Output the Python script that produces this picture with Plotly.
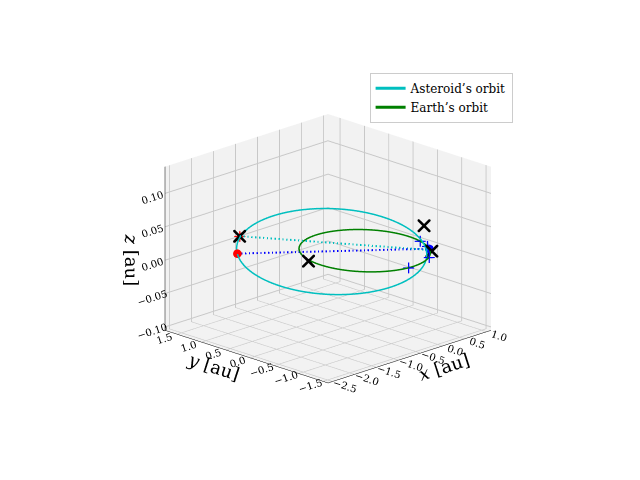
import numpy as np
import plotly.graph_objects as go

# orbital parameters
ast_a, ast_e, ast_inc_deg, ast_peri_dir_deg, ast_node_deg = 1.45, 0.35, 0.9, -40.0, -45.0
earth_r = 1.0

# markers (x, y, z in au)
red_dot = ([-1.5], [1.26], [-0.002])
blue_dot = ([0.8], [-0.6], [0.0])
red_cross = ([-1.05], [1.62], [0.006])
cross_pts = ([-1.0, 0.85, 0.75], [0.25, -0.45, -0.7], [0.0, 0.03, 0.0])
plus_pts = ([0.97, 0.87, 0.5, -0.1], [-0.26, -0.5, -0.87, -0.99], [0.0, 0.0, 0.0, 0.0])
cyan_line = ([-1.05, 0.8], [1.62, -0.7], [0.006, 0.0])
blue_line = ([-1.5, 0.8], [1.26, -0.6], [-0.002, 0.0])

t = np.linspace(0, 2*np.pi, 400)
c = ast_a*ast_e
b = ast_a*np.sqrt(1-ast_e**2)
px = -c + ast_a*np.cos(t)
py = b*np.sin(t)
w = np.radians(ast_peri_dir_deg)
ax_ = px*np.cos(w) - py*np.sin(w)
ay_ = px*np.sin(w) + py*np.cos(w)
nd = np.radians(ast_node_deg)
az_ = np.tan(np.radians(ast_inc_deg))*(-ax_*np.sin(nd) + ay_*np.cos(nd))
ex = earth_r*np.cos(t); ey = earth_r*np.sin(t); ez = 0*t

CY = '#00bfbf'
fig = go.Figure()
fig.add_trace(go.Scatter3d(x=ax_, y=ay_, z=az_, mode='lines', line=dict(color=CY, width=3), name="Asteroid’s orbit"))
fig.add_trace(go.Scatter3d(x=ex, y=ey, z=ez, mode='lines', line=dict(color='green', width=3), name="Earth’s orbit"))
fig.add_trace(go.Scatter3d(x=cyan_line[0], y=cyan_line[1], z=cyan_line[2], mode='lines', line=dict(color=CY, width=4, dash='dash'), showlegend=False))
fig.add_trace(go.Scatter3d(x=blue_line[0], y=blue_line[1], z=blue_line[2], mode='lines', line=dict(color='blue', width=4, dash='dash'), showlegend=False))
fig.add_trace(go.Scatter3d(x=red_dot[0], y=red_dot[1], z=red_dot[2], mode='markers', marker=dict(color='red', size=5), showlegend=False))
fig.add_trace(go.Scatter3d(x=blue_dot[0], y=blue_dot[1], z=blue_dot[2], mode='markers', marker=dict(color='blue', size=5), showlegend=False))
fig.add_trace(go.Scatter3d(x=red_cross[0], y=red_cross[1], z=red_cross[2], mode='markers', marker=dict(color='red', size=6, symbol='cross'), showlegend=False))
fig.add_trace(go.Scatter3d(x=red_cross[0], y=red_cross[1], z=red_cross[2], mode='markers', marker=dict(color='black', size=3, symbol='x'), showlegend=False))
fig.add_trace(go.Scatter3d(x=cross_pts[0], y=cross_pts[1], z=cross_pts[2], mode='markers', marker=dict(color='black', size=3, symbol='x'), showlegend=False))
fig.add_trace(go.Scatter3d(x=plus_pts[0], y=plus_pts[1], z=plus_pts[2], mode='markers', marker=dict(color='blue', size=6, symbol='cross'), showlegend=False))

def axis(title, rng, vals, texts):
    return dict(title=dict(text=title, font=dict(size=18)), range=rng, tickvals=vals, ticktext=texts,
                backgroundcolor='#f2f2f2', showbackground=True, gridcolor='#c8c8c8',
                zeroline=False, showspikes=False, tickfont=dict(size=11), linecolor='black', showline=True)

xv = [-2.5, -2.0, -1.5, -1.0, -0.5, 0.0, 0.5, 1.0]
yv = [-1.5, -1.0, -0.5, 0.0, 0.5, 1.0, 1.5]
zv = [-0.10, -0.05, 0.0, 0.05, 0.10]
xa = axis('<i>x</i> [au]', [-2.6, 1.1], xv, ['−2.5', '−2.0', '−1.5', '−1.0', '−0.5', '0.0', '0.5', '1.0'])
ya = axis('<i>y</i> [au]', [-1.6, 1.75], yv, ['−1.5', '−1.0', '−0.5', '0.0', '0.5', '1.0', '1.5'])
za = axis('<i>z</i> [au]', [-0.105, 0.14], zv, ['−0.10', '−0.05', '0.00', '0.05', '0.10'])

fig.update_layout(
    width=640, height=480, paper_bgcolor='white',
    font=dict(family='DejaVu Serif', color='black'),
    margin=dict(l=0, r=0, t=0, b=0),
    scene=dict(xaxis=xa, yaxis=ya, zaxis=za, aspectmode='manual', aspectratio=dict(x=1, y=1, z=0.75),
               domain=dict(x=[0.0, 1.0], y=[0.02, 0.98]),
               camera=dict(eye=dict(x=-1.45, y=-1.45, z=0.7), center=dict(x=0, y=0, z=0.0),
                           projection=dict(type='orthographic'))),
    legend=dict(x=0.565, y=0.865, xanchor='left', yanchor='top', bordercolor='#cccccc', borderwidth=1,
                bgcolor='white', font=dict(size=12)),
)
fig.write_html("out.html")
